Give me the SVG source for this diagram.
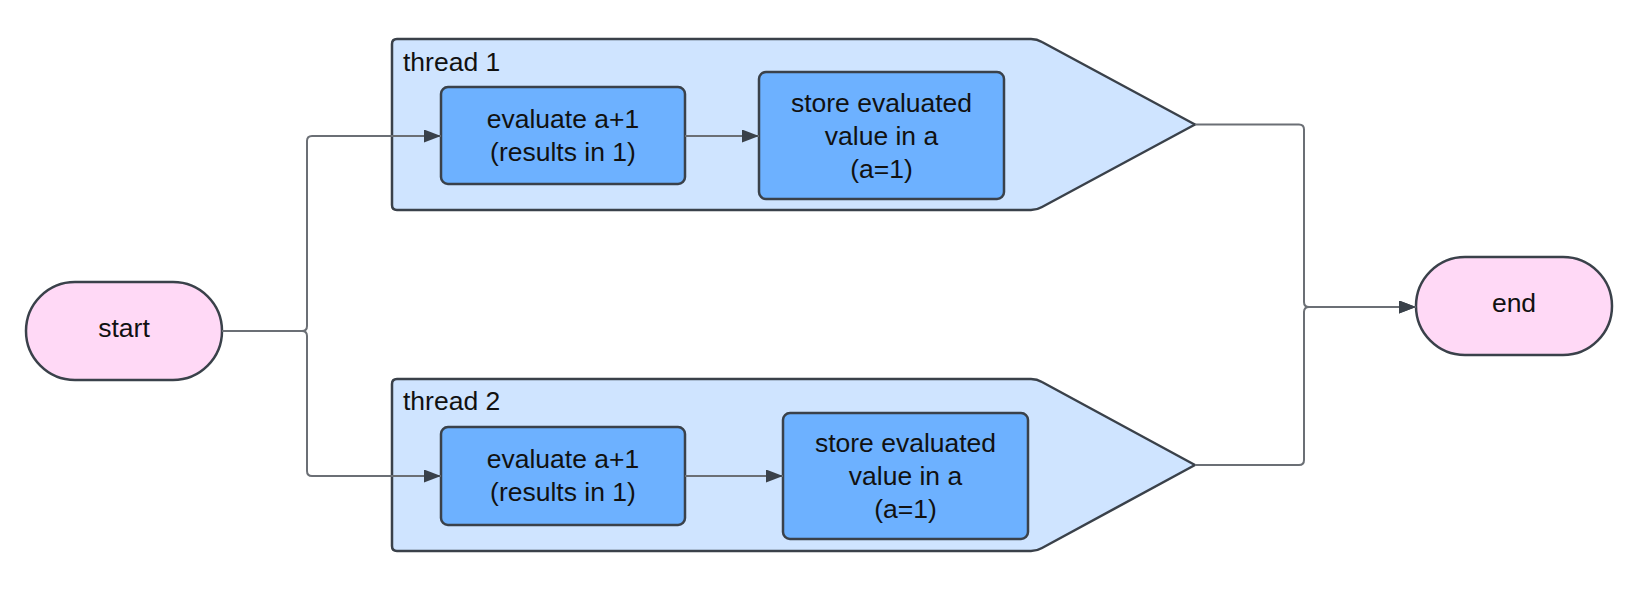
<svg xmlns="http://www.w3.org/2000/svg" width="1644" height="600" viewBox="0 0 1644 600">
<style>
.bg{fill:#ffffff}
.term{fill:#ffd9f6;stroke:#3a414a;stroke-width:2.5}
.thread{fill:#cfe4ff;stroke:#3a414a;stroke-width:2.5;stroke-linejoin:round}
.proc{fill:#6db1ff;stroke:#3a414a;stroke-width:2.5}
.t{font-family:"Liberation Sans",Arial,sans-serif;font-size:26.5px;fill:#111111}
.c{text-anchor:middle}
.conn{fill:none;stroke:#6b6f75;stroke-width:2}
</style>
<defs>
<marker id="arr" markerWidth="17" markerHeight="13" refX="17" refY="6.5" orient="auto" markerUnits="userSpaceOnUse">
<path d="M0,0 L17,6.5 L0,13 Z" fill="#3a414a"/>
</marker>
</defs>
<rect class="bg" x="0" y="0" width="1644" height="600"/>

<g id="thread1">
<path class="thread" d="M397,39 H1031 Q1037,39 1042,42 L1195,124.5 L1042,207 Q1037,210 1031,210 H397 Q392,210 392,205 V44 Q392,39 397,39 Z"/>
<text class="t" x="403" y="71">thread 1</text>
</g>
<g id="thread2">
<path class="thread" d="M397,379 H1031 Q1037,379 1042,382 L1195,465 L1042,548 Q1037,551 1031,551 H397 Q392,551 392,546 V384 Q392,379 397,379 Z"/>
<text class="t" x="403" y="410">thread 2</text>
</g>

<g id="start">
<rect class="term" x="26" y="282" width="196" height="98" rx="49" ry="49"/>
<text class="t c" x="124" y="337">start</text>
</g>
<g id="end">
<rect class="term" x="1416" y="257" width="196" height="98" rx="49" ry="49"/>
<text class="t c" x="1514" y="312">end</text>
</g>

<g id="eval1">
<rect class="proc" x="441" y="87" width="244" height="97" rx="7"/>
<text class="t c" x="563" y="127.5">evaluate a+1</text>
<text class="t c" x="563" y="160.5">(results in 1)</text>
</g>
<g id="store1">
<rect class="proc" x="759" y="72" width="245" height="127" rx="7"/>
<text class="t c" x="881.5" y="112">store evaluated</text>
<text class="t c" x="881.5" y="145">value in a</text>
<text class="t c" x="881.5" y="178">(a=1)</text>
</g>
<g id="eval2">
<rect class="proc" x="441" y="427" width="244" height="98" rx="7"/>
<text class="t c" x="563" y="468">evaluate a+1</text>
<text class="t c" x="563" y="501">(results in 1)</text>
</g>
<g id="store2">
<rect class="proc" x="783" y="413" width="245" height="126" rx="7"/>
<text class="t c" x="905.5" y="452">store evaluated</text>
<text class="t c" x="905.5" y="485">value in a</text>
<text class="t c" x="905.5" y="518">(a=1)</text>
</g>

<g id="connectors">
<path class="conn" d="M222,331 H302 Q307,331 307,326 V141 Q307,136 312,136 H441" marker-end="url(#arr)"/>
<path class="conn" d="M222,331 H302 Q307,331 307,336 V471 Q307,476 312,476 H441" marker-end="url(#arr)"/>
<path class="conn" d="M685,136 H759" marker-end="url(#arr)"/>
<path class="conn" d="M685,476 H783" marker-end="url(#arr)"/>
<path class="conn" d="M1195,124.5 H1299 Q1304,124.5 1304,129.5 V302 Q1304,307 1309,307 H1416" marker-end="url(#arr)"/>
<path class="conn" d="M1195,465 H1299 Q1304,465 1304,460 V312 Q1304,307 1309,307 H1416" marker-end="url(#arr)"/>
</g>
</svg>
